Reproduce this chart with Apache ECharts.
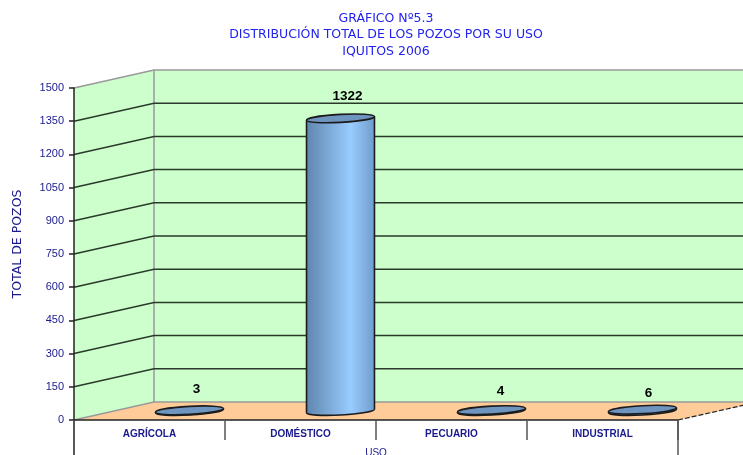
<!DOCTYPE html>
<html>
<head>
<meta charset="utf-8">
<style>
  html, body { margin: 0; padding: 0; background: #fff; }
  #chart { width: 743px; height: 455px; }
</style>
<script src="https://cdn.jsdelivr.net/npm/echarts@6/dist/echarts.min.js"></script>
</head>
<body>
<div id="chart"></div>
<script>
const titleLines = ['GRÁFICO Nº5.3', 'DISTRIBUCIÓN TOTAL DE LOS POZOS POR SU USO', 'IQUITOS 2006']
const categories = ['AGRÍCOLA', 'DOMÉSTICO', 'PECUARIO', 'INDUSTRIAL']
const pozos = [3, 1322, 4, 6]
const yTicks = [0, 150, 300, 450, 600, 750, 900, 1050, 1200, 1350, 1500]

// fake 3D: how far the back wall sits from the front plane, in px
const depthX = 80
const depthY = -18
const tilt = 0.055
const navy = '#1a1a8c'
const labelNudge = [[0, 1], [0, 0], [2, 3], [-1, 6]]

const chart = echarts.init(document.getElementById('chart'))

function back(p) {
  return [p[0] + depthX, p[1] + depthY]
}

// walls and floor, built from the axis scale
function renderRoom(params, api) {
  const fl = api.coord([0, 0])
  const tl = api.coord([0, 1500])
  const size = api.size([1, 0])
  const fl2 = [fl[0] - size[0] / 2, fl[1]]
  const tl2 = [tl[0] - size[0] / 2, tl[1]]
  const fr2 = [fl2[0] + size[0] * categories.length, fl[1]]
  const tr2 = [fr2[0], tl[1]]
  const edge = { stroke: '#999999', lineWidth: 1.5, fill: null }
  return {
    type: 'group',
    children: [
      { type: 'polygon', shape: { points: [fl2, tl2, back(tl2), back(fl2)] }, style: { fill: '#ccffcc' } },
      { type: 'polygon', shape: { points: [back(fl2), back(tl2), back(tr2), back(fr2)] }, style: { fill: '#ccffcc' } },
      { type: 'polygon', shape: { points: [fl2, back(fl2), back(fr2), fr2] }, style: { fill: '#ffcc99' } },
      { type: 'polyline', shape: { points: [tl2, back(tl2), back(tr2)] }, style: edge },
      { type: 'polyline', shape: { points: [fl2, back(fl2), back(fr2)] }, style: edge },
      { type: 'line', shape: { x1: back(tl2)[0], y1: back(tl2)[1], x2: back(fl2)[0], y2: back(fl2)[1] }, style: edge },
      { type: 'line', shape: { x1: fr2[0], y1: fr2[1], x2: back(fr2)[0], y2: back(fr2)[1] }, style: { stroke: '#222', lineWidth: 1.2, lineDash: [5, 2] } },
      // outer frame lines under the category row
      { type: 'line', shape: { x1: fl2[0], y1: fl2[1], x2: fl2[0], y2: fl2[1] + 36 }, style: { stroke: '#222', lineWidth: 1.5 } },
      { type: 'line', shape: { x1: fr2[0], y1: fr2[1], x2: fr2[0], y2: fr2[1] + 36 }, style: { stroke: '#555', lineWidth: 1.5 } }
    ]
  }
}

function renderGridline(params, api) {
  const v = api.value(0)
  const size = api.size([1, 0])
  const p = api.coord([0, v])
  const a = [p[0] - size[0] / 2, p[1]]
  const b = back(a)
  const c = [b[0] + size[0] * categories.length, b[1]]
  return {
    type: 'polyline',
    shape: { points: [a, b, c] },
    style: { fill: null, stroke: '#2a3a2a', lineWidth: 1.5 }
  }
}

function renderCylinder(params, api) {
  const base = back(api.coord([api.value(0), 0]))
  const top = back(api.coord([api.value(0), api.value(1)]))
  const cx = base[0] - depthX / 2
  const baseY = base[1] - depthY / 2
  const topY = top[1] - depthY / 2
  const rx = api.size([1, 0])[0] * 0.225
  const ry = 4
  const body = new echarts.graphic.LinearGradient(0, 0, 1, 0, [
    { offset: 0, color: '#5f86ae' },
    { offset: 0.65, color: '#99ccff' },
    { offset: 1, color: '#6f9ccc' }
  ])
  const line = { stroke: '#1c1c1c', lineWidth: 1.6 }
  const lift = Math.sin(tilt) * rx
  const nudge = labelNudge[params.dataIndex]
  return {
    type: 'group',
    children: [
      { type: 'ellipse', x: cx, y: baseY, rotation: tilt, shape: { cx: 0, cy: 0, rx: rx, ry: ry }, style: Object.assign({ fill: body }, line) },
      { type: 'polygon', shape: { points: [[cx - rx, topY + lift], [cx + rx, topY - lift], [cx + rx, baseY - lift], [cx - rx, baseY + lift]] }, style: { fill: body } },
      { type: 'line', shape: { x1: cx - rx, y1: topY + lift, x2: cx - rx, y2: baseY + lift }, style: line },
      { type: 'line', shape: { x1: cx + rx, y1: topY - lift, x2: cx + rx, y2: baseY - lift }, style: line },
      { type: 'ellipse', x: cx, y: topY, rotation: tilt, shape: { cx: 0, cy: 0, rx: rx, ry: ry }, style: Object.assign({ fill: '#6d95bf' }, line) },
      {
        type: 'text',
        x: cx + 7 + nudge[0],
        y: topY - 22 + nudge[1],
        style: {
          text: String(api.value(1)),
          fill: '#000',
          font: 'bold 13.5px "Liberation Sans", Arial, sans-serif',
          textAlign: 'center',
          textVerticalAlign: 'middle'
        }
      }
    ]
  }
}

chart.setOption({
  animation: false,
  backgroundColor: '#ffffff',
  title: {
    text: titleLines.join('\n'),
    left: 386,
    top: 10,
    padding: 0,
    textAlign: 'center',
    textStyle: {
      color: '#2222ee',
      fontFamily: '"DejaVu Sans", sans-serif',
      fontWeight: 'normal',
      fontSize: 12.5,
      lineHeight: 16.5
    }
  },
  grid: { left: 74, top: 88, width: 604, height: 332, outerBoundsMode: 'none' },
  xAxis: {
    type: 'category',
    data: categories,
    z: 5,
    name: 'USO',
    nameLocation: 'middle',
    nameGap: 28,
    nameTextStyle: { color: navy, fontSize: 10, fontFamily: '"Liberation Sans", Arial, sans-serif' },
    axisLine: { lineStyle: { color: '#222', width: 1.5 } },
    axisTick: { show: true, length: 20, lineStyle: { color: '#555', width: 1.5 } },
    axisLabel: {
      color: navy,
      fontSize: 10,
      margin: 9,
      fontWeight: 'bold',
      fontFamily: '"Liberation Sans", Arial, sans-serif'
    },
    splitLine: { show: false }
  },
  yAxis: {
    type: 'value',
    min: 0,
    max: 1500,
    interval: 150,
    z: 5,
    name: 'TOTAL DE POZOS',
    nameLocation: 'middle',
    nameGap: 50,
    nameTextStyle: { color: navy, fontSize: 12.5, padding: [0, 0, 0, 20], fontFamily: '"DejaVu Sans", sans-serif' },
    axisLine: { show: true, lineStyle: { color: '#222', width: 1.5 } },
    axisTick: { show: true, length: 5, lineStyle: { color: '#222', width: 1.5 } },
    axisLabel: {
      color: navy,
      fontSize: 11,
      margin: 10,
      formatter: v => String(v),
      fontFamily: '"Liberation Sans", Arial, sans-serif'
    },
    splitLine: { show: false }
  },
  series: [
    { type: 'custom', z: 1, silent: true, clip: false, renderItem: renderRoom, data: [[0, 0]] },
    {
      type: 'custom',
      z: 2,
      silent: true,
      clip: false,
      renderItem: renderGridline,
      encode: { x: 1, y: 0 },
      data: yTicks.slice(1, -1).map(v => [v, 0])
    },
    {
      type: 'custom',
      z: 3,
      silent: true,
      clip: false,
      renderItem: renderCylinder,
      encode: { x: 0, y: 1 },
      data: pozos.map((v, i) => [i, v])
    }
  ]
})
</script>
</body>
</html>
